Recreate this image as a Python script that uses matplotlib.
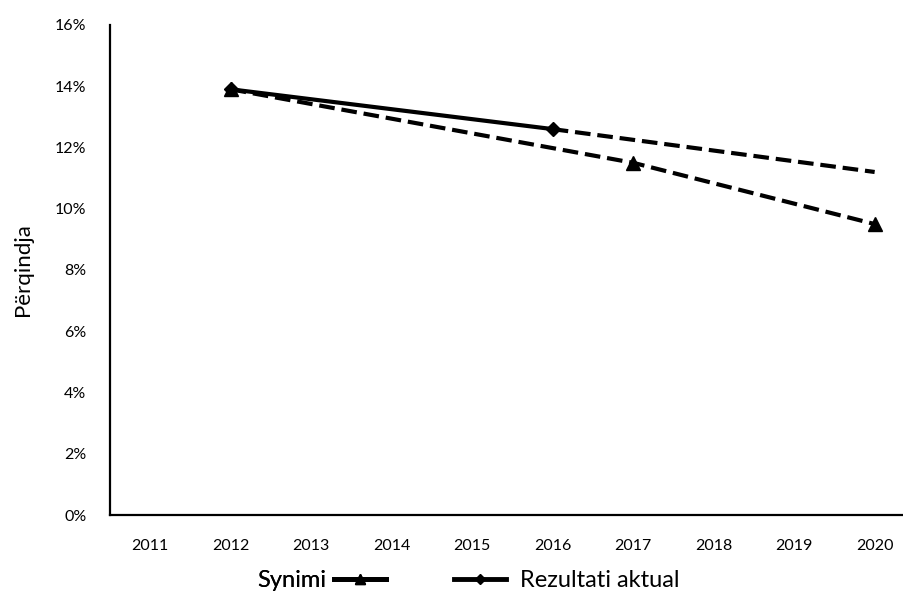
import matplotlib
matplotlib.use("Agg")
import matplotlib.pyplot as plt
from matplotlib.lines import Line2D
from matplotlib.ticker import FuncFormatter

plt.rcParams['font.family'] = ['Lato', 'DejaVu Sans']

years = [2011, 2012, 2013, 2014, 2015, 2016, 2017, 2018, 2019, 2020]

# Synimi (target)
synimi_years = [2012, 2017, 2020]
synimi_vals = [13.9, 11.5, 9.5]

# Rezultati aktual (actual) and its projection
aktual_years = [2012, 2016]
aktual_vals = [13.9, 12.6]
projekt_years = [2016, 2020]
projekt_vals = [12.6, 11.2]

fig = plt.figure(figsize=(9.04, 6.02), dpi=100)
ax = fig.add_axes([0.1217, 0.1445, 0.877, 0.814])

lw = 3.0
dash = (3.75, 1.65)
ax.plot(synimi_years, synimi_vals, color='black', lw=lw, dashes=dash,
        marker='^', markersize=10, zorder=3)
ax.plot(projekt_years, projekt_vals, color='black', lw=lw, dashes=dash, zorder=2)
ax.plot(aktual_years, aktual_vals, color='black', lw=lw,
        marker='D', markersize=7.5, zorder=4)

ax.set_ylim(0, 16)
ax.set_yticks(range(0, 17, 2))
ax.yaxis.set_major_formatter(FuncFormatter(lambda v, p: f"{int(v)}%"))
ax.set_xlim(2010.5, 2020.35)
ax.set_xticks(years)
ax.set_xticklabels([str(y) for y in years])
ax.tick_params(axis='both', length=0, labelsize=11.5, colors='black')
ax.tick_params(axis='y', pad=17)
ax.tick_params(axis='x', pad=17)

for side in ['top', 'right']:
    ax.spines[side].set_visible(False)
for side in ['left', 'bottom']:
    ax.spines[side].set_linewidth(1.6)
    ax.spines[side].set_color('black')

ax.set_ylabel('Përqindja', fontsize=16)
ax.yaxis.set_label_coords(-0.097, 0.5)

h1 = Line2D([], [], color='black', lw=3.5, marker='^', markersize=7)
h2 = Line2D([], [], color='black', lw=3.5, marker='D', markersize=5)
leg1 = fig.legend([h1], ['Synimi'], loc='center right', bbox_to_anchor=(0.427, 0.035),
                  frameon=False, markerfirst=False, fontsize=17,
                  handlelength=2.2, handletextpad=0.34, borderpad=0, borderaxespad=0)
fig.add_artist(leg1)
fig.legend([h2], ['Rezultati aktual'], loc='center left', bbox_to_anchor=(0.502, 0.035),
           frameon=False, fontsize=17, handlelength=2.2, handletextpad=0.6,
           borderpad=0, borderaxespad=0)

fig.savefig('out.png', dpi=100)
